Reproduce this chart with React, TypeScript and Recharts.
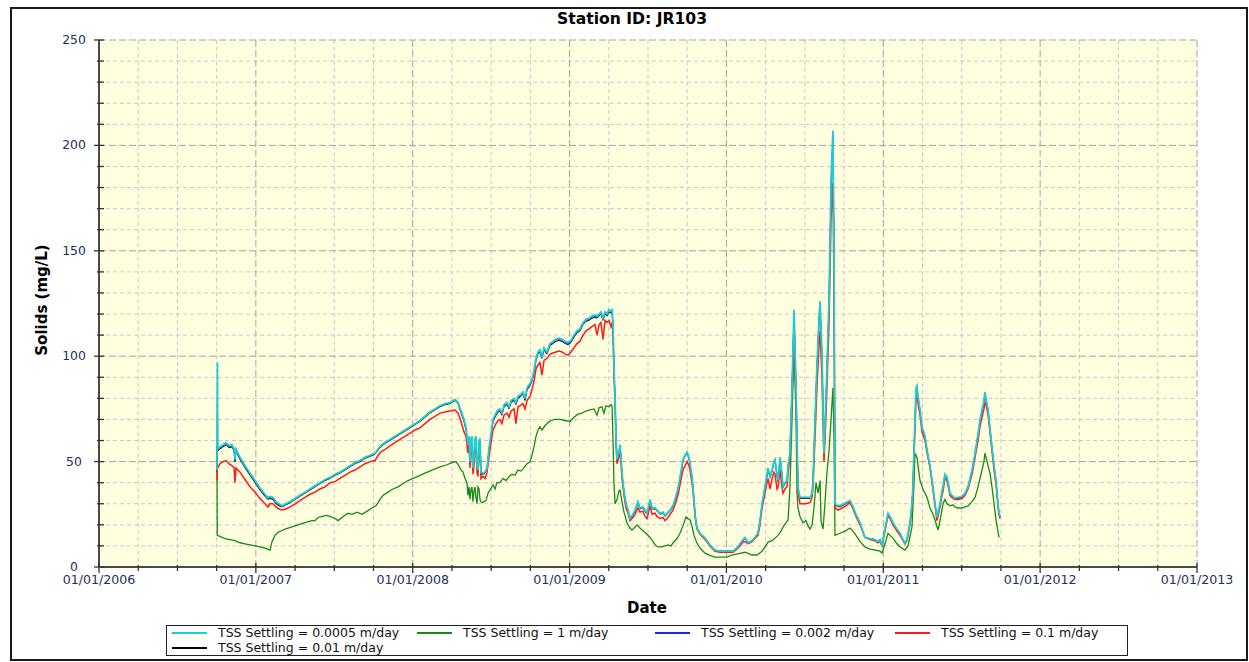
import React from 'react';
import { LineChart, Line, XAxis, YAxis, CartesianGrid } from 'recharts';

// Dates as decimal years
const mainDates = [
  2006.752, 2006.755, 2006.757, 2006.771, 2006.791, 2006.810, 2006.829, 2006.848, 2006.861, 2006.867,
  2006.873, 2006.899, 2006.931, 2006.963, 2006.995, 2007.026, 2007.058, 2007.077, 2007.090, 2007.109,
  2007.128, 2007.148, 2007.167, 2007.192, 2007.218, 2007.250, 2007.281, 2007.313, 2007.345, 2007.377,
  2007.409, 2007.441, 2007.473, 2007.505, 2007.536, 2007.568, 2007.600, 2007.632, 2007.664, 2007.696,
  2007.728, 2007.760, 2007.779, 2007.804, 2007.830, 2007.855, 2007.887, 2007.919, 2007.951, 2007.983,
  2008.015, 2008.046, 2008.078, 2008.110, 2008.142, 2008.174, 2008.206, 2008.238, 2008.270, 2008.289,
  2008.308, 2008.327, 2008.340, 2008.352, 2008.359, 2008.365, 2008.372, 2008.378, 2008.384, 2008.391,
  2008.397, 2008.403, 2008.410, 2008.416, 2008.423, 2008.429, 2008.435, 2008.448, 2008.461, 2008.474,
  2008.486, 2008.499, 2008.512, 2008.531, 2008.544, 2008.556, 2008.569, 2008.582, 2008.601, 2008.614,
  2008.627, 2008.646, 2008.658, 2008.671, 2008.684, 2008.703, 2008.716, 2008.729, 2008.748, 2008.760,
  2008.773, 2008.786, 2008.799, 2008.811, 2008.824, 2008.837, 2008.856, 2008.875, 2008.894, 2008.913,
  2008.933, 2008.952, 2008.971, 2008.990, 2009.009, 2009.028, 2009.047, 2009.066, 2009.086, 2009.105,
  2009.124, 2009.143, 2009.162, 2009.175, 2009.188, 2009.200, 2009.213, 2009.226, 2009.239, 2009.251,
  2009.264, 2009.271, 2009.277, 2009.283, 2009.290, 2009.296, 2009.302, 2009.315, 2009.322, 2009.328,
  2009.334, 2009.347, 2009.360, 2009.373, 2009.385, 2009.404, 2009.417, 2009.436, 2009.449, 2009.468,
  2009.481, 2009.494, 2009.513, 2009.526, 2009.545, 2009.557, 2009.577, 2009.596, 2009.608, 2009.628,
  2009.640, 2009.659, 2009.672, 2009.691, 2009.704, 2009.717, 2009.723, 2009.736, 2009.749, 2009.761,
  2009.768, 2009.780, 2009.787, 2009.800, 2009.812, 2009.832, 2009.863, 2009.895, 2009.927, 2009.959,
  2009.991, 2010.023, 2010.042, 2010.067, 2010.087, 2010.106, 2010.118, 2010.138, 2010.163, 2010.182,
  2010.201, 2010.214, 2010.227, 2010.246, 2010.259, 2010.265, 2010.278, 2010.291, 2010.303, 2010.310,
  2010.322, 2010.329, 2010.342, 2010.354, 2010.361, 2010.373, 2010.386, 2010.393, 2010.405, 2010.418,
  2010.431, 2010.444, 2010.456, 2010.469, 2010.501, 2010.533, 2010.546, 2010.552, 2010.565, 2010.577,
  2010.590, 2010.597, 2010.609, 2010.622, 2010.635, 2010.641, 2010.654, 2010.667, 2010.679, 2010.686,
  2010.692, 2010.711, 2010.737, 2010.762, 2010.788, 2010.807, 2010.826, 2010.852, 2010.883, 2010.915,
  2010.947, 2010.966, 2010.979, 2010.992, 2011.011, 2011.030, 2011.043, 2011.062, 2011.087, 2011.107,
  2011.126, 2011.138, 2011.151, 2011.170, 2011.183, 2011.189, 2011.202, 2011.209, 2011.215, 2011.221,
  2011.234, 2011.247, 2011.266, 2011.279, 2011.298, 2011.311, 2011.330, 2011.342, 2011.362, 2011.374,
  2011.381, 2011.393, 2011.406, 2011.419, 2011.425, 2011.438, 2011.457, 2011.476, 2011.502, 2011.521,
  2011.540, 2011.566, 2011.585, 2011.604, 2011.617, 2011.629, 2011.642, 2011.648, 2011.655, 2011.668,
  2011.680, 2011.693, 2011.706, 2011.719, 2011.731, 2011.738, 2011.744,
];

// TSS Settling = 0.0005 m/day
const tss0005 = [
  46, 97, 56, 57, 58, 59, 57.5, 58, 56, 51,
  56, 52, 48, 44.5, 41, 37.5, 34.5, 33, 33.5, 33,
  31, 30, 29, 30, 31, 32.5, 34, 35.5, 37, 38.5,
  40, 41.5, 42.5, 44, 45, 46.5, 48, 49.5, 50.5, 52,
  53, 54, 56, 58, 59.5, 60.5, 62, 63.5, 65, 66.5,
  68, 69.5, 71.5, 73.5, 75, 76.5, 77.5, 78, 79.5, 78,
  74, 70, 66, 58, 62, 50, 61, 62, 47, 52,
  61, 62, 48, 46, 60, 61, 45, 44.5, 45, 47,
  56, 63, 70, 73, 74.5, 75, 73, 77, 78, 76,
  79, 80, 78, 81, 81.5, 83, 80, 85, 87, 89,
  93, 99, 102, 103, 100, 104, 102, 106, 107, 108,
  108.5, 108, 107, 106.5, 107.5, 110, 112, 113, 116, 117.5,
  118, 119, 119.5, 119, 120, 121, 118, 121, 120, 122,
  121.5, 122, 115, 95, 80, 62, 51, 55, 58, 52,
  44.5, 36, 30, 27, 23, 25, 27, 31, 28, 28.5,
  27, 25.5, 32, 28, 28, 27, 25.5, 26, 24.5, 26,
  27, 29, 32, 37, 42.5, 48, 51, 53, 54.5, 52,
  49, 43, 38, 25, 18.5, 16, 13.7, 10.5, 8, 7.5,
  7.5, 7.5, 7.5, 9, 11, 13, 14, 11.5, 12.5, 14,
  16, 22, 30, 38, 44, 47, 43, 46, 50, 51,
  44, 41, 52, 44, 38, 40, 41, 48, 54, 85,
  122, 85, 38, 33, 33, 33, 35, 41, 70, 95,
  118, 126, 101, 54, 80, 95, 126, 183, 207, 149,
  30, 29, 29.5, 30.5, 31.5, 28.5, 25, 21, 14, 13.5,
  13, 12, 13, 10.5, 18, 25.5, 24, 21, 18, 16,
  13, 11.4, 13, 21, 30, 38, 70, 85, 86, 81,
  75, 66.4, 62, 55.5, 48, 41, 30, 23.7, 30, 36,
  38, 44, 42.7, 38, 35, 34, 32.7, 33, 33.5, 35,
  38, 46, 54, 63, 70, 74.5, 79, 83, 80, 74.5,
  66, 57, 48, 41, 30, 25.6, 24,
];

// TSS Settling = 0.1 m/day
const tss01 = [
  41, 48, 47, 49, 50, 50.5, 49, 48, 47, 40,
  47, 45, 41.5, 38, 35.5, 32.5, 30, 28.5, 30, 30,
  28.5, 27.5, 27, 27.5, 28.5, 30, 31.5, 33, 34.5, 35.5,
  37, 38, 40, 40.5, 42, 43.5, 45, 46, 47.5, 49,
  50, 50.5, 53, 55, 56, 57.5, 59, 60.5, 62, 63.5,
  65, 66, 68, 70, 71.5, 73, 73.5, 74, 74.5, 73,
  69, 64, 62, 54, 60, 47, 56, 58, 44, 48,
  57, 58, 45, 43, 56, 57, 42, 43, 42, 45,
  52, 59, 65, 68, 69.5, 70, 68, 72, 73, 71,
  74, 75, 68, 76, 76.5, 77.5, 75, 79, 81, 84,
  88, 94, 96, 97, 91, 98, 99, 101, 101.5, 102,
  102.5, 102, 101, 100.5, 102, 104, 106, 107, 110, 112,
  113, 114, 115, 110, 115, 116, 108, 117, 116, 117,
  114, 116, 110, 92, 77, 60, 49, 52, 55, 49,
  42, 34, 28, 25.5, 22, 23.5, 25, 28, 26, 26.5,
  24, 23, 29, 25, 25.5, 24, 23, 23.5, 22, 23.5,
  25, 27, 29.5, 34, 39, 44, 46, 48, 50, 48,
  46, 40, 36, 24, 18, 15.5, 13, 10, 7.5, 7,
  7, 7, 7, 8.5, 10, 12, 12, 11, 12, 13.5,
  15, 20, 28, 35, 40, 42, 37, 42, 45, 44,
  37, 38, 46, 38, 35, 37, 38, 45, 52, 80,
  112, 78, 36, 30, 30, 30.5, 33, 38, 62, 85,
  105, 112, 90, 50, 72, 86, 115, 165, 182, 130,
  28, 27, 28, 29, 30.5, 27.5, 24, 20, 14, 13,
  12.5, 11.5, 12, 10, 17, 24.5, 23, 20, 17, 15,
  12.5, 11, 12.5, 20, 28, 36, 66, 80, 81, 78,
  72, 64, 60, 54, 47, 40, 29, 22, 28.5, 34,
  36, 42, 41, 36.5, 34, 33, 32, 32, 32.5, 34,
  37, 44, 52, 60, 67, 71, 75, 78, 77, 72,
  64, 55, 46, 39, 29, 24.5, 23,
];

// TSS Settling = 0.01 m/day
const tss001 = [
  45, 56, 55, 56, 57, 58, 56.5, 57, 55, 50,
  55, 51, 47, 43.5, 40, 36.5, 33.5, 32, 32.5, 32,
  30, 29, 28.5, 29.5, 30.5, 32, 33.5, 35, 36.5, 38,
  39.5, 41, 42, 43.5, 44.5, 46, 47.5, 49, 50, 51.5,
  52.5, 53.5, 55.5, 57.5, 59, 60, 61.5, 63, 64.5, 66,
  67.5, 69, 71, 73, 74.5, 76, 77, 77.5, 79, 77.5,
  73, 69, 65, 57, 61, 49, 60, 61, 46, 51,
  60, 61, 47, 45, 59, 60, 44, 44, 44.5, 46.5,
  55, 62, 69, 72, 73.5, 74, 72, 76, 77, 75,
  78, 79, 77, 80, 80.5, 82, 79, 84, 86, 88,
  92, 98, 101, 102, 99, 103, 101, 105, 106, 107,
  107.5, 107, 106, 105.5, 106.5, 109, 111, 112, 115, 116.5,
  117, 118, 118.5, 118, 119, 120, 117, 120, 119, 121,
  120.5, 121, 114, 94, 79, 61, 50.5, 54.5, 57.5, 51.5,
  44, 35.5, 29.5, 26.5, 22.5, 24.5, 26.5, 30.5, 27.5, 28,
  26.5, 25, 31.5, 27.5, 27.5, 26.5, 25, 25.5, 24, 25.5,
  26.5, 28.5, 31.5, 36.5, 42, 47.5, 50.5, 52.5, 54, 51.5,
  48.5, 42.5, 37.5, 24.5, 18.5, 16, 13.5, 10.5, 8, 7.5,
  7.5, 7.5, 7.5, 9, 11, 12.5, 13.5, 11.5, 12.5, 14,
  16, 21.5, 29.5, 37.5, 43.5, 46.5, 42.5, 45.5, 49.5, 50.5,
  43.5, 40.5, 51.5, 43.5, 37.5, 39.5, 40.5, 47.5, 53.5, 84,
  120, 84, 37.5, 32.5, 32.5, 32.5, 34.5, 40.5, 69, 94,
  116, 124, 100, 53.5, 79, 94, 124, 180, 204, 147,
  29.5, 28.5, 29, 30, 31, 28, 24.5, 20.5, 14, 13.5,
  13, 12, 13, 10.5, 18, 25, 23.5, 20.5, 17.5, 15.5,
  13, 11.4, 13, 20.5, 29.5, 37.5, 69, 84, 85, 80,
  74, 66, 61.5, 55, 47.5, 40.5, 29.5, 23.5, 29.5, 35.5,
  37.5, 43.5, 42, 37.5, 34.5, 33.5, 32.5, 32.5, 33, 34.5,
  37.5, 45.5, 53.5, 62.5, 69, 73.5, 78, 82, 79, 74,
  65.5, 56.5, 47.5, 40.5, 29.5, 25.5, 24,
];

// TSS Settling = 0.002 m/day
const tss0002 = [
  45.5, 80, 55.5, 56.5, 57.5, 58.5, 57, 57.5, 55.5, 50.5,
  55.5, 51.5, 47.5, 44, 40.5, 37, 34, 32.5, 33, 32.5,
  30.5, 29.5, 28.8, 29.8, 30.8, 32.3, 33.8, 35.3, 36.8, 38.3,
  39.8, 41.3, 42.3, 43.8, 44.8, 46.3, 47.8, 49.3, 50.3, 51.8,
  52.8, 53.8, 55.8, 57.8, 59.3, 60.3, 61.8, 63.3, 64.8, 66.3,
  67.8, 69.3, 71.3, 73.3, 74.8, 76.3, 77.3, 77.8, 79.3, 77.8,
  73.5, 69.5, 65.5, 57.5, 61.5, 49.5, 60.5, 61.5, 46.5, 51.5,
  60.5, 61.5, 47.5, 45.5, 59.5, 60.5, 44.5, 44.2, 44.8, 46.8,
  55.5, 62.5, 69.5, 72.5, 74, 74.5, 72.5, 76.5, 77.5, 75.5,
  78.5, 79.5, 77.5, 80.5, 81, 82.5, 79.5, 84.5, 86.5, 88.5,
  92.5, 98.5, 101.5, 102.5, 99.5, 103.5, 101.5, 105.5, 106.5, 107.5,
  108, 107.5, 106.5, 106, 107, 109.5, 111.5, 112.5, 115.5, 117,
  117.5, 118.5, 119, 118.5, 119.5, 120.5, 117.5, 120.5, 119.5, 121.5,
  121, 121.5, 114.5, 94.5, 79.5, 61.5, 50.8, 54.8, 57.8, 51.8,
  44.3, 35.8, 29.8, 26.8, 22.8, 24.8, 26.8, 30.8, 27.8, 28.3,
  26.8, 25.3, 31.8, 27.8, 27.8, 26.8, 25.3, 25.8, 24.3, 25.8,
  26.8, 28.8, 31.8, 36.8, 42.3, 47.8, 50.8, 52.8, 54.3, 51.8,
  48.8, 42.8, 37.8, 24.8, 18.5, 16, 13.7, 10.5, 8, 7.5,
  7.5, 7.5, 7.5, 9, 11, 12.8, 13.8, 11.5, 12.5, 14,
  16, 21.8, 29.8, 37.8, 43.8, 46.8, 42.8, 45.8, 49.8, 50.8,
  43.8, 40.8, 51.8, 43.8, 37.8, 39.8, 40.8, 47.8, 53.8, 84.5,
  121, 84.5, 37.8, 32.8, 32.8, 32.8, 34.8, 40.8, 69.5, 94.5,
  117, 125, 100.5, 53.8, 79.5, 94.5, 125, 181, 205, 148,
  29.8, 28.8, 29.3, 30.3, 31.3, 28.3, 24.8, 20.8, 14, 13.5,
  13, 12, 13, 10.5, 18, 25.3, 23.8, 20.8, 17.8, 15.8,
  13, 11.4, 13, 20.8, 29.8, 37.8, 69.5, 84.5, 85.5, 80.5,
  74.5, 66.2, 61.8, 55.3, 47.8, 40.8, 29.8, 23.6, 29.8, 35.8,
  37.8, 43.8, 42.4, 37.8, 34.8, 33.8, 32.6, 32.8, 33.3, 34.8,
  37.8, 45.8, 53.8, 62.8, 69.5, 74, 78.5, 82.5, 79.5, 74.3,
  65.8, 56.8, 47.8, 40.8, 29.8, 25.6, 24,
];

const greenDates = [
  2006.752, 2006.754, 2006.771, 2006.803, 2006.835, 2006.867, 2006.899, 2006.931, 2006.963, 2006.995,
  2007.026, 2007.058, 2007.090, 2007.103, 2007.122, 2007.141, 2007.186, 2007.230, 2007.269, 2007.313,
  2007.358, 2007.377, 2007.396, 2007.422, 2007.447, 2007.473, 2007.505, 2007.524, 2007.549, 2007.587,
  2007.613, 2007.645, 2007.677, 2007.709, 2007.740, 2007.766, 2007.791, 2007.811, 2007.842, 2007.874,
  2007.906, 2007.938, 2007.970, 2008.002, 2008.034, 2008.078, 2008.123, 2008.174, 2008.219, 2008.250,
  2008.276, 2008.295, 2008.308, 2008.321, 2008.333, 2008.346, 2008.352, 2008.359, 2008.365, 2008.372,
  2008.378, 2008.384, 2008.391, 2008.397, 2008.403, 2008.410, 2008.416, 2008.423, 2008.429, 2008.435,
  2008.442, 2008.454, 2008.467, 2008.480, 2008.493, 2008.512, 2008.525, 2008.537, 2008.556, 2008.576,
  2008.595, 2008.614, 2008.633, 2008.652, 2008.671, 2008.690, 2008.709, 2008.729, 2008.748, 2008.760,
  2008.773, 2008.786, 2008.799, 2008.811, 2008.824, 2008.843, 2008.862, 2008.882, 2008.907, 2008.939,
  2008.971, 2009.003, 2009.028, 2009.054, 2009.079, 2009.105, 2009.130, 2009.156, 2009.175, 2009.188,
  2009.207, 2009.219, 2009.232, 2009.251, 2009.264, 2009.271, 2009.277, 2009.283, 2009.290, 2009.302,
  2009.315, 2009.322, 2009.334, 2009.347, 2009.366, 2009.385, 2009.398, 2009.417, 2009.430, 2009.449,
  2009.462, 2009.487, 2009.513, 2009.532, 2009.545, 2009.564, 2009.589, 2009.608, 2009.628, 2009.647,
  2009.659, 2009.685, 2009.704, 2009.723, 2009.742, 2009.755, 2009.768, 2009.780, 2009.793, 2009.812,
  2009.832, 2009.863, 2009.895, 2009.927, 2009.959, 2010.004, 2010.029, 2010.055, 2010.087, 2010.118,
  2010.138, 2010.163, 2010.195, 2010.227, 2010.246, 2010.265, 2010.291, 2010.310, 2010.329, 2010.348,
  2010.361, 2010.380, 2010.393, 2010.399, 2010.405, 2010.418, 2010.431, 2010.444, 2010.450, 2010.456,
  2010.469, 2010.488, 2010.507, 2010.520, 2010.533, 2010.546, 2010.558, 2010.571, 2010.584, 2010.597,
  2010.603, 2010.616, 2010.628, 2010.641, 2010.654, 2010.667, 2010.679, 2010.686, 2010.692, 2010.724,
  2010.756, 2010.788, 2010.807, 2010.826, 2010.852, 2010.883, 2010.915, 2010.947, 2010.979, 2010.992,
  2011.011, 2011.030, 2011.043, 2011.062, 2011.087, 2011.107, 2011.138, 2011.158, 2011.183, 2011.196,
  2011.202, 2011.215, 2011.234, 2011.253, 2011.279, 2011.298, 2011.317, 2011.330, 2011.349, 2011.362,
  2011.381, 2011.393, 2011.406, 2011.425, 2011.444, 2011.457, 2011.476, 2011.502, 2011.521, 2011.540,
  2011.566, 2011.585, 2011.604, 2011.617, 2011.629, 2011.642, 2011.648, 2011.655, 2011.668, 2011.680,
  2011.693, 2011.706, 2011.719, 2011.738,
];

// TSS Settling = 1 m/day
const tss1 = [
  57, 15, 14.5, 13.5, 13, 12.5, 11.5, 11, 10.5, 10,
  9.5, 9, 8, 12, 15, 16.5, 18, 19, 20, 21,
  22, 22, 23.5, 24, 24.5, 24, 23, 22, 23.5, 25.5,
  25, 26, 25, 26.5, 28, 29, 32, 34, 35.5, 37,
  38, 39.5, 41, 42, 43, 44.5, 46, 47.5, 48.5, 49.5,
  50, 48, 46, 45, 42, 40, 34, 38, 32, 37,
  38, 31, 36, 38, 33, 30, 38, 37, 32, 31,
  30.5, 31, 31.5, 35, 36.5, 39, 37, 40, 40, 42,
  41, 43, 44, 43.5, 46, 45.5, 47, 49, 50, 53,
  57, 62, 65, 66.5, 65, 67, 68.5, 69.5, 70, 70,
  69.5, 69, 71, 72.5, 73, 74, 74.5, 75, 72, 75.5,
  76, 73, 76.5, 76, 77, 76, 60, 40, 30, 32,
  36, 36.5, 31, 26, 21, 18.5, 17.5, 19, 20, 18.5,
  17.5, 16, 14, 12, 10.5, 9.5, 9.5, 10, 10.5, 10,
  11.4, 13.5, 16, 19.5, 23.7, 23, 22.3, 19.5, 15, 11.4,
  9, 6.6, 5.5, 4.7, 4.7, 4.7, 5.5, 6, 6.5, 7,
  6.5, 5.7, 5.7, 7.5, 9.5, 11.8, 12.5, 13.7, 15, 17,
  19, 21, 22.3, 30, 38, 70, 105, 70, 35, 28,
  24, 21, 22, 19.5, 18, 20, 28, 40, 35, 41,
  22, 18, 30, 45, 55, 70, 85, 60, 15, 16,
  17, 18.5, 17, 15, 12, 9.5, 8.5, 8, 7.5, 6.6,
  11, 16, 15, 13.7, 11, 9.5, 8, 10, 19, 40,
  54, 52, 41, 37, 33, 28, 25, 22.3, 17.5, 22,
  30, 32, 30, 29, 29.5, 28.5, 28, 28, 28.5, 29,
  31, 33, 38, 42, 46, 50, 54, 52, 48, 44.6,
  38, 30, 22, 14,
];

const quarterTicks = [
  2006, 2006.25, 2006.5, 2006.75, 2007, 2007.25, 2007.5, 2007.75, 2008, 2008.25,
  2008.5, 2008.75, 2009, 2009.25, 2009.5, 2009.75, 2010, 2010.25, 2010.5, 2010.75,
  2011, 2011.25, 2011.5, 2011.75, 2012, 2012.25, 2012.5, 2012.75, 2013,
];
const yearTicks = [2006, 2007, 2008, 2009, 2010, 2011, 2012, 2013];
const valueTicks = [0, 10, 20, 30, 40, 50, 60, 70, 80, 90, 100, 110, 120, 130, 140, 150, 160, 170, 180, 190, 200, 210, 220, 230, 240, 250];
const valueMajorTicks = [0, 50, 100, 150, 200, 250];

const seriesMeta = [
  { key: 's0005', name: 'TSS Settling = 0.0005 m/day', color: '#1ECCD3' },
  { key: 's1', name: 'TSS Settling = 1 m/day', color: '#168A16' },
  { key: 's0002', name: 'TSS Settling = 0.002 m/day', color: '#2222EE' },
  { key: 's01', name: 'TSS Settling = 0.1 m/day', color: '#FF1A1A' },
  { key: 's001', name: 'TSS Settling = 0.01 m/day', color: '#000000' },
];

const mainData = mainDates.map((date, i) => ({
  date,
  s0005: tss0005[i],
  s01: tss01[i],
  s001: tss001[i],
  s0002: tss0002[i],
}));
const greenData = greenDates.map((date, i) => ({ date, s1: tss1[i] }));

const colorOf = (k: string) => seriesMeta.find((s) => s.key === k)!.color;

const FONT = '"DejaVu Sans", Verdana, sans-serif';
const TICK_COLOR = '#22305a';
const AXIS_COLOR = '#4a4a4a';

const isYear = (v: number) => Math.abs(v - Math.round(v)) < 1e-6;
const pad = (y: number) => `01/01/${Math.round(y)}`;

const BottomTick = (props: any) => {
  const { x, y, payload } = props;
  const major = isYear(payload.value);
  return (
    <g>
      <line x1={x} x2={x} y1={major ? y - 4 : y - 2} y2={major ? y + 6 : y + 4} stroke="#333" strokeWidth={1.3} />
      {major && (
        <text x={x} y={y + 17} textAnchor="middle" fontFamily={FONT} fontSize={12.6} fill={TICK_COLOR}>
          {pad(payload.value)}
        </text>
      )}
    </g>
  );
};

const TopTick = (props: any) => {
  const { x, y, payload } = props;
  const major = isYear(payload.value);
  return <line x1={x} x2={x} y1={y} y2={y + (major ? 6 : 5)} stroke="#333" strokeWidth={1.3} />;
};

const LeftTick = (props: any) => {
  const { x, y, payload } = props;
  const major = payload.value % 50 === 0;
  return (
    <g>
      <line x1={major ? x - 5 : x - 2} x2={x + 5} y1={y} y2={y} stroke="#333" strokeWidth={1.3} />
      {major && (
        <text x={x - 25} y={y} dy={4} textAnchor="middle" fontFamily={FONT} fontSize={12.4} fill={TICK_COLOR}>
          {payload.value}
        </text>
      )}
    </g>
  );
};

const RightTick = (props: any) => {
  const { x, y } = props;
  return <line x1={x - 5} x2={x} y1={y} y2={y} stroke="#333" strokeWidth={1.3} />;
};

const Legend = () => {
  const cols = [172, 417, 655, 895];
  const rows = [633, 648];
  return (
    <>
      <div
        style={{
          position: 'absolute', left: 166, top: 625, width: 962, height: 31,
          border: '1px solid #222', boxSizing: 'border-box', background: '#fff',
        }}
      />
      {seriesMeta.map((s, i) => {
        const left = cols[i % 4];
        const top = rows[Math.floor(i / 4)];
        return (
          <div key={s.key}>
            <div style={{ position: 'absolute', left, top: top - 1, width: 35, height: 1.5, background: s.color }} />
            <div
              style={{
                position: 'absolute', left: left + 46, top: top - 8, fontFamily: FONT, fontSize: 12.5,
                lineHeight: '16px', color: '#111', whiteSpace: 'nowrap',
              }}
            >
              {s.name}
            </div>
          </div>
        );
      })}
    </>
  );
};

export default function App() {
  return (
    <div style={{ position: 'absolute', left: 0, top: 0, width: 1249, height: 662, background: '#fff', overflow: 'hidden' }}>
      <div
        style={{
          position: 'absolute', left: 10, top: 7, width: 1238, height: 654,
          border: '2px solid #1a1a1a', boxSizing: 'border-box',
        }}
      />
      <div
        style={{
          position: 'absolute', left: 0, top: 10, width: 1264, textAlign: 'center', fontFamily: FONT,
          fontWeight: 'bold', fontSize: 15.6, color: '#000',
        }}
      >
        Station ID: JR103
      </div>
      <div style={{ position: 'absolute', left: 0, top: 0 }}>
        <LineChart
          width={1249}
          height={662}
          data={mainData}
          margin={{ top: 40, right: 52, bottom: 0, left: 0 }}
        >
          <CartesianGrid
            fill="#FFFFE0"
            stroke="#c9c9c9"
            strokeDasharray="4 3"
            horizontalValues={valueTicks.filter((v) => v % 50 !== 0)}
            verticalValues={quarterTicks.filter((v) => !isYear(v))}
          />
          <CartesianGrid
            stroke="#a2a2a2"
            strokeDasharray="7 3"
            horizontalValues={valueMajorTicks}
            verticalValues={yearTicks}
          />
          <XAxis
            dataKey="date"
            type="number"
            domain={[2006, 2013]}
            ticks={quarterTicks}
            interval={0}
            height={95}
            tickSize={0}
            tickMargin={0}
            tickLine={false}
            axisLine={{ stroke: AXIS_COLOR, strokeWidth: 2 }}
            tick={<BottomTick />}
            allowDataOverflow
          />
          <XAxis
            xAxisId="top"
            dataKey="date"
            type="number"
            orientation="top"
            domain={[2006, 2013]}
            ticks={quarterTicks}
            interval={0}
            height={0}
            tickSize={0}
            tickMargin={0}
            tickLine={false}
            axisLine={{ stroke: AXIS_COLOR, strokeWidth: 2 }}
            tick={<TopTick />}
            allowDataOverflow
          />
          <YAxis
            type="number"
            domain={[0, 250]}
            ticks={valueTicks}
            interval={0}
            width={99}
            tickSize={0}
            tickMargin={0}
            tickLine={false}
            axisLine={{ stroke: AXIS_COLOR, strokeWidth: 2 }}
            tick={<LeftTick />}
            allowDataOverflow
          />
          <YAxis
            yAxisId="right"
            orientation="right"
            type="number"
            domain={[0, 250]}
            ticks={valueTicks}
            interval={0}
            width={0}
            tickSize={0}
            tickMargin={0}
            tickLine={false}
            axisLine={{ stroke: AXIS_COLOR, strokeWidth: 2 }}
            tick={<RightTick />}
            allowDataOverflow
          />
          <Line data={greenData} dataKey="s1" name="TSS Settling = 1 m/day" stroke={colorOf('s1')} strokeWidth={1.3} dot={false} activeDot={false} isAnimationActive={false} type="linear" />
          <Line dataKey="s001" name="TSS Settling = 0.01 m/day" stroke={colorOf('s001')} strokeWidth={1} dot={false} activeDot={false} isAnimationActive={false} type="linear" />
          <Line dataKey="s0002" name="TSS Settling = 0.002 m/day" stroke={colorOf('s0002')} strokeWidth={1} dot={false} activeDot={false} isAnimationActive={false} type="linear" />
          <Line dataKey="s01" name="TSS Settling = 0.1 m/day" stroke={colorOf('s01')} strokeWidth={1.5} dot={false} activeDot={false} isAnimationActive={false} type="linear" />
          <Line dataKey="s0005" name="TSS Settling = 0.0005 m/day" stroke={colorOf('s0005')} strokeWidth={1.8} dot={false} activeDot={false} isAnimationActive={false} type="linear" />
        </LineChart>
      </div>
      <div
        style={{
          position: 'absolute', left: 42, top: 300, transform: 'translate(-50%, -50%) rotate(-90deg)',
          fontFamily: FONT, fontWeight: 'bold', fontSize: 15, color: '#000', whiteSpace: 'nowrap',
        }}
      >
        Solids (mg/L)
      </div>
      <div
        style={{
          position: 'absolute', left: 647, top: 608, transform: 'translate(-50%, -50%)',
          fontFamily: FONT, fontWeight: 'bold', fontSize: 15, color: '#000',
        }}
      >
        Date
      </div>
      <Legend />
    </div>
  );
}
